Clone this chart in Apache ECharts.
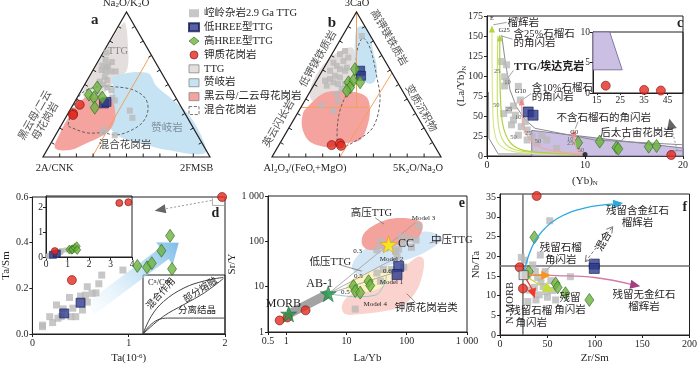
<!DOCTYPE html>
<html>
<head>
<meta charset="utf-8">
<script src="https://cdn.jsdelivr.net/npm/echarts@6/dist/echarts.min.js"></script>
<style>html,body{margin:0;padding:0;background:#fff}#chart{width:700px;height:365px}</style>
</head>
<body>
<div id="chart"></div>
<script>
const SERIF = "'Liberation Serif','Times New Roman','Noto Sans CJK SC',serif";
const INK = '#231f20';
const N_GRAY = '崆岭杂岩2.9 Ga TTG', N_BLUE = '低HREE型TTG', N_GREEN = '高HREE型TTG', N_RED = '钾质花岗岩';

// ---- a: Na2O/K2O - 2A/CNK - 2FMSB 三元图，点为 [顶端%, 右端%]
const aGray = [[72,2],[67,4],[63,4],[62,7],[60,5],[59,8],[59,11],[59,14],[55,9.5],[53,12],[52,8],[50,11],[48,14.5],[46,18],[41,21],[43,11.5],[37,11],[39,23.5],[32,36],[19,28],[17,27],[15,35.5],[63,7.5],[65.5,8.5],[27,40]];
const aBlue = [[37,18],[38,19]];
const aGreen = [[48,8.5],[43,6],[41,10],[41,15],[34,14]];
const aRed = [[36,4],[30,3],[29,3.5]];
// 区域边界 (三角图平面坐标, 底边 0-100)
const aFieldTTG = [[49.1,80.3],[50.9,65.9],[50.3,52.1],[44.3,46.1],[40.1,41.9],[32.3,34.1],[27,32.3],[24,38.3],[28.2,47.9],[34.1,58.1],[40.1,68.3],[46.1,77.9]];
const aFieldSanuk = [[41.9,47.9],[62.3,50.3],[68.3,41.9],[77.9,34.1],[86.3,26.4],[94,14.4],[97,2.4],[74.3,4.2],[58.1,8.4],[46.1,12],[40.1,18],[41.3,30],[41.9,41.9]];
const aFieldBio = [[7.2,5.4],[16.2,4.2],[26.4,8.4],[34.1,12],[40.1,16.2],[43.1,22.2],[43.1,28.2],[41.3,34.1],[34.1,35.3],[26.4,35.9],[23.4,34.1],[19.2,30],[14.4,22.2],[10.2,14.4]];
const aFieldMig = [[15,19.2],[22.2,37.1],[32.3,41.9],[43.1,41.9],[53.9,40.1],[61.1,35.3],[62.9,28.2],[59.9,21],[53.3,16.2],[44.3,13.2],[35.9,14.4],[26.4,14.4],[17.4,17.4]];
const aOrange = [[64.5,61.1],[29.4,0]];

// ---- b: 3CaO - Al2O3/(FeOt+MgO) - 5K2O/Na2O
const bGray = [[83.4,11.4],[73.1,6.7],[70.9,4.8],[68.6,10.9],[66.3,9.1],[65.1,3.8],[62.8,6.9],[59.5,4.6],[60.6,9.9],[59.5,13.5],[56,9.3],[53.8,7.4],[54.8,12.8],[51.5,10.6],[50.3,14],[50.3,18],[49.2,7.8],[46.9,17.8],[43.5,16.5],[44.6,21.9],[38.9,19.7],[32.1,20.2],[35.6,11.6],[61.7,13.4],[52.7,5]];
const bBlue = [[59.5,22.4],[56,24.7]];
const bGreen = [[60.6,18.8],[51.5,19.5],[52.7,21.8],[51.5,26.4],[48,22.2],[45.7,21.4]];
const bRed = [[8.2,31.2],[9.4,35.5],[7.7,37]];
const bFieldTTG = [[47.9,65.1],[49.1,53.3],[47.9,43.8],[40.2,37.9],[34.3,35.5],[28.4,33.7],[23.7,33.7],[22.5,39.6],[26.6,49.7],[32.5,57.4],[40.2,63.3]];
const bFieldSanuk = [[50.3,76.9],[53.8,78.1],[58,73.4],[59.8,63.3],[62.1,53.3],[60.9,45.6],[58,43.8],[53.8,45.6],[50.9,49.7],[49.1,57.4],[49.1,69.2]];
const bFieldBio = [[20.7,29.6],[30.2,37.9],[40.2,39.6],[50.3,38.5],[56.2,35.5],[58,27.8],[56.2,17.8],[52.1,10.1],[44.4,8.3],[34.3,5.9],[26.6,7.1],[21.3,10.1],[17.8,17.8],[18.3,26]];
const bFieldMig = [[53.8,71],[58,65.1],[62.1,47.3],[63.9,33.7],[59.8,17.8],[50.3,10.1],[40.2,5.9],[38.5,14.2],[40.2,27.8],[44.4,37.9],[49.1,45.6],[50.3,63.3]];
const bOrange = [[[50,86.6],[50,29.6]], [[17.1,29.6],[56.8,29.6]], [[71,50.2],[40.2,0]]];

// ---- c: (La/Yb)N vs (Yb)N
const cGray = [[1.5,118],[2,114],[1.8,99],[2,93],[1.8,87.5],[3.2,87],[3.4,70],[2.7,62.5],[1.7,53],[2.2,57.5],[2.9,51],[3.9,43],[2.5,39],[3.5,36.6],[3.2,26],[4.1,32.5],[4.6,24],[5.6,26],[6.1,20],[7.1,9.6],[5.1,16],[4.1,20],[4.6,53],[2.7,45]];
const cBlue = [[4.2,55],[4.7,51]];
const cGreen = [[9.3,16.6],[11.5,18],[13.2,10.5],[13.4,9],[16.5,11.7],[17.3,12.5]];
const cRed = [[18.8,1.2],[35.1,0.5],[42.2,0.4]];
const cCurveE = [[0.5,163],[0.55,80],[0.7,35],[1.2,15],[2.5,6],[5,3],[10,2]];
const cCurveG25a = [[1.3,152],[1.35,80],[1.6,40],[2.3,18],[3.5,8],[6,4],[10,2]];
const cCurveG25b = [[1.1,150],[1.05,80],[1.15,40],[1.7,18],[2.8,8],[5,4],[10,2]];
const cCurveG10 = [[3.5,72],[3.6,50],[4,28],[5,14],[6.5,7],[10,2]];
const cCurveG0 = [[8.8,33],[9,15],[9.3,6],[10,2]];
const cTTGLower = [[0.15,80],[0.2,22],[1.15,2.5],[4.56,2.5]];
const cTTGUpper = [[1.5,151],[1.84,120],[2.35,82.5],[3,61.6],[3.9,45],[4.9,34.6],[11,20],[20,14]];
const cPostArchean = [[4.56,32],[20,10],[20,0],[4.56,0]];
const cInsetField = [[13.4,10],[20.5,10],[25.8,3.8],[13.4,3.8]];
const cEnd = [10,2];

// ---- d: Ta/Sm vs Ta
const dGray = [[0.105,0.032],[0.105,0.039],[0.18,0.076],[0.21,0.05],[0.265,0.069],[0.25,0.127],[0.32,0.11],[0.3,0.076],[0.4,0.076],[0.42,0.113],[0.45,0.076],[0.385,0.16],[0.5,0.166],[0.52,0.105],[0.55,0.17],[0.57,0.207],[0.62,0.178],[0.66,0.18],[0.69,0.22],[0.72,0.258],[0.94,0.28],[0.57,0.14]];
const dBlue = [[0.33,0.09],[0.5,0.137]];
const dGreen = [[1.09,0.298],[1.19,0.292],[1.24,0.31],[1.34,0.365],[1.43,0.43],[1.45,0.285]];
const dRed = [[0.41,0.236],[3.41,2.17],[3.83,2.2]];
const dOffscale = [[1.97,0.6]];
const dTrend = [[0.6,0.11],[1.52,0.4]];
const dMix = [[0,0],[0.1,0.3],[0.25,0.55],[0.5,0.78],[0.75,0.9],[0.98,0.96]];
const dMelt = [[0,0],[0.25,0.3],[0.5,0.5],[0.75,0.7],[0.98,0.94]];
const dFrac = [[0,0],[0.08,0.14],[0.18,0.24],[0.3,0.27],[1,0.27]];

// ---- e: Sr/Y vs La/Yb (对数)
const eGray = [[36.6,98],[44,71],[57,83],[65,60],[73.6,67],[83.5,89],[108,117],[120,74],[143,107],[158,217],[69,46],[32,65],[41,23.8],[55.6,23.8],[89,27],[32,20],[36.6,13.2],[14,3.2],[81.5,123]];
const eBlue = [[73.6,28],[69,18.5]];
const eGreen = [[23.3,13.2],[24.8,10.6],[13.1,10.3],[14,8],[16.9,7.4]];
const eRed = [[0.78,1.8],[1.05,2.1],[2.1,3]];
const eMORB = [1.1,2.5], eAB1 = [5,7], eCC = [50,85];
const eFieldHP = [[20.5,163],[44,293],[108,319],[180,248],[158,127],[83.5,91],[44,71],[23.3,65],[18,91]];
const eFieldMP = [[12.3,28],[18,60],[34,91],[83.5,138],[233,163],[387,117],[264,71],[140,46],[65,33],[30,23.8],[15.8,18.5]];
const eFieldLP = [[10.8,12.2],[18,20],[34,28],[57,28],[65,18.5],[44,11.2],[26.4,8],[14,7.4],[10,8.7]];
const eFieldK = [[8.4,3.75],[10.8,6.2],[23.3,10.3],[50,17],[108,33],[158,46],[192,39],[180,17],[140,7.4],[83.5,3.75],[44,2.9],[18,2.5],[9.5,2.5]];
const eModel3 = [eAB1,[140,260]], eModel2 = [eAB1,[70,45]], eModel1 = [eAB1,[75,22]];
const eModel4 = [eAB1,[15,6],[30,6.5],[42,11],[46,17]];

// ---- f: Nb/Ta vs Zr/Sm
const fGray = [[22.5,19.7],[34.5,17.8],[37.3,16.2],[29.3,15.2],[39.7,14.6],[43.2,13.5],[45.6,12.3],[49,11],[50.1,9.6],[41.5,10.2],[38,8.9],[29.3,8.5],[31.1,11.4],[36.3,12.1],[55.3,11.3],[53.6,13.8],[74.3,14.8],[52.5,29],[42.5,20.3],[25.9,19],[58.7,8.9],[47.7,16.1]];
const fBlue = [[99.5,18],[99.5,16.9]];
const fGreen = [[36.3,24.8],[30.4,16.1],[58.7,13.1],[60.8,12.1],[69.1,10.6],[94.3,8.9]];
const fRed = [[38.7,35.3],[20.7,17.2],[24.2,11.8]];
const fNMORB = [24.9,15.2];
const fRefZrSm = 24.2, fRefNbTa = 17.5;

const tern = p => [p[1] + p[0] / 2, p[0] * 0.866];
const RICH = {s: {fontSize: 7, verticalAlign: 'bottom', fontFamily: SERIF}, u: {fontSize: 7, verticalAlign: 'top', fontFamily: SERIF}};
const STAR = 'path://M50,2L61.8,37.6L99,37.6L68.9,59.6L80.4,95.1L50,73.2L19.6,95.1L31.1,59.6L1,37.6L38.2,37.6Z';

const KIND = {
    gray: {name: N_GRAY, symbol: 'rect', size: 6, item: {color: '#b9b9b9'}},
    blue: {name: N_BLUE, symbol: 'rect', size: 9, item: {color: '#2d3a8c', borderColor: '#141c55', borderWidth: 0.8}},
    green: {name: N_GREEN, symbol: 'diamond', size: [9, 13], item: {color: '#6db33f', borderColor: '#2e6b1e', borderWidth: 0.8}},
    red: {name: N_RED, symbol: 'circle', size: 9, item: {color: '#e42a20', borderColor: '#7d1410', borderWidth: 0.8}}
};

function pts(gi, kind, data, size, clip) {
    const k = KIND[kind];
    return {type: 'scatter', name: k.name, xAxisIndex: gi, yAxisIndex: gi, data, symbol: k.symbol,
        symbolSize: size || k.size, itemStyle: k.item, z: 5, silent: true, clip: clip !== false};
}

function poly(gi, points, st, name) {
    return {type: 'custom', name, xAxisIndex: gi, yAxisIndex: gi, silent: true, z: st.z || 1, data: [points[0]],
        renderItem: (params, api) => ({type: 'polygon',
            shape: {points: points.map(p => api.coord(p)), smooth: st.smooth === undefined ? 0.35 : st.smooth},
            style: {fill: st.fill || 'none', stroke: st.stroke || 'none', lineWidth: st.lw || 1, lineDash: st.dash || null}})};
}

function line(gi, data, color, width, dash, smooth, z) {
    return {type: 'line', xAxisIndex: gi, yAxisIndex: gi, data, showSymbol: false, symbol: 'none', silent: true,
        smooth: smooth || false, z: z || 3, lineStyle: {color, width: width || 1, type: dash || 'solid'}};
}

function texts(gi, items) {
    return {type: 'custom', xAxisIndex: gi, yAxisIndex: gi, silent: true, z: 8,
        data: items.map(it => [it[0], it[1]]),
        renderItem(params, api) {
            const it = items[params.dataIndex], o = it[3] || {};
            const c = api.coord([it[0], it[1]]);
            return {type: 'text', x: c[0], y: c[1], rotation: (o.r || 0) * Math.PI / 180,
                style: {text: it[2], fill: o.color || INK, fontFamily: SERIF, fontSize: o.size || 10.5,
                    fontWeight: o.bold ? 'bold' : 'normal', align: o.align || 'center', verticalAlign: 'middle',
                    lineHeight: o.lh || 12, rich: RICH}};
        }};
}

function arrow(gi, points, o) {
    return {type: 'custom', xAxisIndex: gi, yAxisIndex: gi, silent: true, z: o.z || 6, data: [points[0]],
        renderItem(params, api) {
            const P = points.map(p => api.coord(p));
            const kids = [], L = o.hl || 8, W = o.hw || 7;
            const head = (tip, from) => {
                let dx = tip[0] - from[0], dy = tip[1] - from[1];
                const len = Math.hypot(dx, dy) || 1; dx /= len; dy /= len;
                const bx = tip[0] - dx * L, by = tip[1] - dy * L, nx = -dy * W / 2, ny = dx * W / 2;
                const tri = [[bx + nx, by + ny], tip, [bx - nx, by - ny]];
                if (o.open) {
                    kids.push({type: 'polyline', shape: {points: tri}, style: {stroke: o.headColor || o.color, lineWidth: o.w || 1, fill: 'none'}});
                    return tip;
                }
                kids.push({type: 'polygon', shape: {points: tri}, style: {fill: o.headColor || o.color}});
                return [tip[0] - dx * L * 0.6, tip[1] - dy * L * 0.6];
            };
            const ln = P.slice();
            if (o.end !== false) ln[ln.length - 1] = head(P[P.length - 1], P[P.length - 2]);
            if (o.start) ln[0] = head(P[0], P[1]);
            kids.unshift({type: 'polyline', shape: {points: ln, smooth: o.smooth || 0},
                style: {stroke: o.color, lineWidth: o.w || 1, lineDash: o.dash || null, fill: 'none'}});
            return {type: 'group', children: kids};
        }};
}

// 三角形边框及刻度
function ternFrame(gi) {
    return {type: 'custom', xAxisIndex: gi, yAxisIndex: gi, silent: true, z: 4, data: [[0, 0]],
        renderItem(params, api) {
            const V = [[0, 0], [100, 0], [50, 86.6]].map(p => api.coord(p));
            const cx = (V[0][0] + V[1][0] + V[2][0]) / 3, cy = (V[0][1] + V[1][1] + V[2][1]) / 3;
            const kids = [{type: 'polygon', shape: {points: V}, style: {fill: 'none', stroke: INK, lineWidth: 1.2}}];
            for (let e = 0; e < 3; e++) {
                const A = V[e], B = V[(e + 1) % 3];
                let ex = B[0] - A[0], ey = B[1] - A[1];
                const el = Math.hypot(ex, ey); ex /= el; ey /= el;
                for (let k = 1; k < 10; k++) {
                    const x = A[0] + (B[0] - A[0]) * k / 10, y = A[1] + (B[1] - A[1]) * k / 10;
                    let nx = -ey, ny = ex;
                    if (nx * (cx - x) + ny * (cy - y) < 0) { nx = -nx; ny = -ny; }
                    kids.push({type: 'line', shape: {x1: x, y1: y, x2: x + nx * 3.5, y2: y + ny * 3.5}, style: {stroke: INK, lineWidth: 1}});
                }
            }
            return {type: 'group', children: kids};
        }};
}

function trendArrow(gi, p) {
    return {type: 'custom', xAxisIndex: gi, yAxisIndex: gi, silent: true, z: 2, data: [p[0]],
        renderItem(params, api) {
            const a = api.coord(p[0]), b = api.coord(p[1]);
            let dx = b[0] - a[0], dy = b[1] - a[1];
            const len = Math.hypot(dx, dy); dx /= len; dy /= len;
            const nx = -dy, ny = dx, w = 7, h = 14, L = 18;
            const bx = b[0] - dx * L, by = b[1] - dy * L;
            const shape = [[a[0] + nx * w, a[1] + ny * w], [bx + nx * w, by + ny * w], [bx + nx * h, by + ny * h], b,
                [bx - nx * h, by - ny * h], [bx - nx * w, by - ny * w], [a[0] - nx * w, a[1] - ny * w]];
            return {type: 'polygon', shape: {points: shape}, style: {fill: new echarts.graphic.LinearGradient(a[0], a[1], b[0], b[1],
                [{offset: 0, color: 'rgba(220,238,250,0.15)'}, {offset: 1, color: '#7dbde9'}], true)}};
        }};
}

const LBL = {fontFamily: SERIF, fontSize: 10, color: INK, margin: 4, show: true};
function ax(gi, o) {
    return Object.assign({gridIndex: gi, type: 'value', nameLocation: 'middle',
        nameTextStyle: {fontFamily: SERIF, fontSize: 11, color: INK, rich: RICH},
        axisLine: {show: true, onZero: false, lineStyle: {color: INK, width: 1}},
        axisTick: {show: true, length: 3, lineStyle: {color: INK}},
        axisLabel: Object.assign({}, LBL),
        splitLine: {show: false}}, o);
}
const hidden = (gi, max) => ({gridIndex: gi, type: 'value', min: 0, max, show: false});
const logLabel = v => (v === 1000 ? '1 000' : String(v));
const box = {show: true, borderColor: INK, borderWidth: 1};

const FIELD = {
    TTG: {fill: '#e4dfdc'}, Sanuk: {fill: '#c6e3f4'}, Bio: {fill: '#f4a39f'},
    Mig: {stroke: '#555', dash: [3, 2], lw: 0.9, z: 2}
};

const series = [
    // a
    poly(0, aFieldTTG, FIELD.TTG, 'TTG'),
    poly(0, aFieldSanuk, FIELD.Sanuk, '赞岐岩'),
    poly(0, aFieldBio, FIELD.Bio, '黑云母/二云母花岗岩'),
    poly(0, aFieldMig, FIELD.Mig, '混合花岗岩'),
    line(0, aOrange, '#f5a05a', 1),
    ternFrame(0),
    pts(0, 'gray', aGray.map(tern)), pts(0, 'blue', aBlue.map(tern)),
    pts(0, 'green', aGreen.map(tern)), pts(0, 'red', aRed.map(tern)),
    texts(0, [
        [49.7, 92, 'Na{s|2}O/K{s|2}O', {size: 11}],
        [7, -7, '2A/CNK'], [92, -7, '2FMSB'],
        [31, 82, 'a', {size: 15, bold: true}],
        [44.9, 62.9, 'TTG', {color: '#8a8a8a'}],
        [74.3, 17.4, '赞岐岩', {color: '#7d8c99'}],
        [49.1, 7.2, '混合花岗岩', {color: '#444'}],
        [-1.5, 23, '黑云母/二云\n母花岗岩', {r: 60, color: '#555'}]
    ]),
    // b
    poly(1, bFieldTTG, FIELD.TTG), poly(1, bFieldSanuk, FIELD.Sanuk), poly(1, bFieldBio, FIELD.Bio), poly(1, bFieldMig, FIELD.Mig),
    ...bOrange.map(l => line(1, l, '#f5a05a', 1)),
    ternFrame(1),
    pts(1, 'gray', bGray.map(tern)), pts(1, 'blue', bBlue.map(tern)),
    pts(1, 'green', bGreen.map(tern)), pts(1, 'red', bRed.map(tern)),
    texts(1, [
        [50.3, 92, '3CaO'],
        [19.5, -7, 'Al{s|2}O{s|3}/(FeO{s|t}+MgO)'], [86.4, -7, '5K{s|2}O/Na{s|2}O'],
        [35.5, 80, 'b', {size: 15, bold: true}],
        [27.5, 58.5, '低钾镁铁质岩', {r: 60, color: '#555'}],
        [4.2, 19.9, '英云闪长岩', {r: 60, color: '#555'}],
        [69, 71.2, '高钾镁铁质岩', {r: -60, color: '#555'}],
        [88, 29, '变质沉积物', {r: -60, color: '#555'}]
    ]),
    // c
    poly(2, cPostArchean, {fill: '#cbbfe3', stroke: '#6f6190', lw: 0.8, smooth: 0}),
    line(2, cTTGLower, '#8c8c8c', 1),
    line(2, cTTGUpper, '#8c8c8c', 1),
    arrow(2, cCurveE, {color: '#d7e98e', w: 1.2, smooth: 0.3, end: false, start: true, hl: 7, hw: 6, headColor: '#b5d33d'}),
    arrow(2, cCurveG25b, {color: '#c7df6a', w: 1.1, smooth: 0.3, end: false}),
    arrow(2, cCurveG25a, {color: '#b2d03f', w: 1.2, smooth: 0.3, end: false, start: true, hl: 7, hw: 6}),
    arrow(2, cCurveG10, {color: '#f4a7a3', w: 1.1, smooth: 0.3, end: false, start: true, hl: 7, hw: 6, headColor: '#f08a86'}),
    arrow(2, cCurveG0, {color: '#f4a7a3', w: 1.1, smooth: 0.3, end: false, start: true, hl: 7, hw: 6, headColor: '#f08a86'}),
    arrow(2, [[19.4, 7], [18.6, 47]], {color: '#9a9a9a', w: 1, dash: [2, 2], hl: 11, hw: 10, headColor: '#666'}),
    poly(2, [[18.7, 0.2], [20, 0.2], [20, 6.6], [18.7, 6.6]], {stroke: '#888', lw: 0.8, smooth: 0, z: 4}),
    pts(2, 'gray', cGray, 7), pts(2, 'blue', cBlue, 10), pts(2, 'green', cGreen), pts(2, 'red', cRed),
    {type: 'scatter', xAxisIndex: 2, yAxisIndex: 2, data: [cEnd], symbolSize: 5, itemStyle: {color: '#111'}, z: 6, silent: true},
    line(2, [[0.65, 164], [2, 167]], '#888', 0.8),
    line(2, [[1.5, 150], [2.6, 146]], '#888', 0.8),
    line(2, [[2.7, 107], [2.1, 97]], '#888', 0.8),
    line(2, [[4.5, 78], [3.7, 71]], '#888', 0.8),
    line(2, [[9.3, 43], [9.0, 34]], '#888', 0.8),
    line(2, [[14.2, 25], [13.6, 18]], '#888', 0.8),
    texts(2, [
        [-2.6, 87.5, '(La/Yb){s|N}', {r: 90, size: 11}],
        [19.7, 166, 'c', {size: 14, bold: true}],
        [2.1, 166, '榴辉岩', {align: 'left'}],
        [2.7, 152.5, '含25%石榴石', {align: 'left'}],
        [2.7, 140.5, '的角闪岩', {align: 'left'}],
        [2.75, 111.5, 'TTG/埃达克岩', {align: 'left', bold: true, size: 11}],
        [4.56, 84.5, '含10%石榴石', {align: 'left'}],
        [4.56, 73, '的角闪岩', {align: 'left'}],
        [7.1, 47, '不含石榴石的角闪岩', {align: 'left'}],
        [15.3, 29, '后太古宙花岗岩'],
        [0.5, 172, 'E', {size: 6.5}], [1.75, 157, 'G25', {size: 6.5}],
        [3.4, 81, 'G10', {size: 6.5}], [8.9, 29.5, 'G0', {size: 6.5}],
        [1.05, 106, '25', {size: 6.5, color: '#666'}], [0.95, 64, '50', {size: 6.5, color: '#666'}],
        [2.1, 92, '10', {size: 6.5, color: '#666'}], [2.25, 58, '25', {size: 6.5, color: '#666'}],
        [2.7, 24, '50', {size: 6.5, color: '#666'}], [3.2, 48, '10', {size: 6.5, color: '#666'}],
        [4.2, 29, '25', {size: 6.5, color: '#666'}], [5.2, 18, '50', {size: 6.5, color: '#666'}],
        [8.5, 21, '10', {size: 6.5, color: '#666'}], [8.5, 16, '25', {size: 6.5, color: '#666'}],
        [9.6, 7, '50', {size: 6.5, color: '#666'}]
    ]),
    // c 插图
    poly(3, cInsetField, {fill: '#cbbfe3', stroke: '#6f6190', lw: 0.8, smooth: 0}),
    pts(3, 'red', cRed),
    // d
    trendArrow(4, dTrend),
    pts(4, 'gray', dGray, 7), pts(4, 'blue', dBlue), pts(4, 'green', dGreen), pts(4, 'red', dRed),
    Object.assign(pts(4, 'red', dOffscale, 9, false), {z: 6}),
    poly(4, [[1.87, 0.563], [2, 0.563], [2, 0.6], [1.87, 0.6]], {stroke: '#999', lw: 0.8, smooth: 0, z: 4}),
    arrow(4, [[1.86, 0.585], [1.27, 0.54]], {color: '#9a9a9a', w: 1, dash: [2, 2], hl: 11, hw: 9, headColor: '#666'}),
    texts(4, [[1.9, 0.53, 'd', {size: 14, bold: true}]]),
    pts(5, 'gray', dGray, 5), pts(5, 'blue', dBlue, 7), pts(5, 'green', dGreen, [7, 9]), pts(5, 'red', dRed, 7),
    line(6, dMix, '#444', 1, 'solid', 0.4), line(6, dMelt, '#444', 1, 'solid', 0.4), line(6, dFrac, '#444', 1, 'solid', 0.3),
    texts(6, [
        [0.06, 0.86, 'C{u|a}/C{u|m}', {align: 'left', size: 8.5}],
        [0.22, 0.68, '混合作用', {r: 48, size: 9.5}],
        [0.7, 0.74, '部分熔融', {r: 33, size: 9.5}],
        [0.66, 0.39, '分离结晶', {size: 9.5}]
    ]),
    // e
    poly(7, eFieldK, {fill: '#fbd3ce'}),
    poly(7, eFieldLP, {fill: '#fcf1c2'}),
    poly(7, eFieldMP, {fill: '#d3e6f5'}),
    poly(7, eFieldHP, {fill: '#f3a39b'}),
    line(7, [eMORB, eAB1], '#a3a3a3', 9),
    line(7, eModel3, '#9a9a9a', 0.8), line(7, eModel2, '#9a9a9a', 0.8), line(7, eModel1, '#9a9a9a', 0.8),
    line(7, eModel4, '#8fc9c3', 1, 'solid', 0.4),
    line(7, [[30, 330], [42, 240]], '#666', 0.7), line(7, [[380, 105], [240, 92]], '#666', 0.7),
    line(7, [[8, 30], [18, 22]], '#666', 0.7), line(7, [[140, 4.5], [100, 7]], '#666', 0.7),
    pts(7, 'gray', eGray, 7), pts(7, 'blue', eBlue, 10), pts(7, 'green', eGreen), pts(7, 'red', eRed),
    {type: 'scatter', xAxisIndex: 7, yAxisIndex: 7, silent: true, z: 7, symbol: STAR, symbolSize: 16,
        itemStyle: {color: '#1f9a4b', borderColor: '#0e5c2a', borderWidth: 0.6}, data: [eMORB, eAB1]},
    {type: 'scatter', xAxisIndex: 7, yAxisIndex: 7, silent: true, z: 7, symbol: STAR, symbolSize: 17,
        itemStyle: {color: '#fff200', borderColor: '#e39b1a', borderWidth: 0.8}, data: [eCC]},
    texts(7, [
        [820, 680, 'e', {size: 14, bold: true}],
        [26, 420, '高压TTG'], [72, 90, 'CC', {align: 'left', size: 12}],
        [560, 107, '中压TTG'], [5.4, 34, '低压TTG'], [210, 3.4, '钾质花岗岩类'],
        [3.6, 11.5, 'AB-1', {size: 12}], [0.9, 4.1, 'MORB', {size: 12}],
        [190, 330, 'Model 3', {size: 7}], [56, 41, 'Model 2', {size: 7}],
        [56, 12.4, 'Model 1', {size: 7}], [30, 4.1, 'Model 4', {size: 7}],
        [15.3, 62, '0.3', {size: 7}], [15.8, 16.7, '0.5', {size: 7}],
        [48, 21.5, '0.6', {size: 7}], [9.6, 7.4, '0.5', {size: 7}]
    ]),
    // f
    line(8, [[fRefZrSm, 0], [fRefZrSm, 35.8]], '#6f6f6f', 1.5),
    line(8, [[0, fRefNbTa], [200, fRefNbTa]], '#6f6f6f', 1.5),
    arrow(8, [fNMORB, [30, 20], [40, 25], [60, 29.5], [90, 32.3], [130, 33.5]], {color: '#29abe2', w: 1.3, smooth: 0.4, hl: 10, hw: 9}),
    arrow(8, [fNMORB, [60, 15.1], [100, 14.6], [148, 12.4]], {color: '#d47aa6', w: 1.3, smooth: 0.4, hl: 10, hw: 9, headColor: '#a3407d'}),
    arrow(8, [fNMORB, [40, 15.2], [54, 15.1]], {color: '#f7931e', w: 1.3, hl: 10, hw: 9}),
    arrow(8, [fNMORB, [40, 13], [57, 11]], {color: '#c6de3c', w: 1.3, hl: 11, hw: 11}),
    arrow(8, [fNMORB, [33, 12], [37, 9.3]], {color: '#ee3a2a', w: 1.3, smooth: 0.3, hl: 10, hw: 9}),
    arrow(8, [[90, 18.6], [119, 27.5]], {color: '#777', w: 1, dash: [3, 2], hl: 6, hw: 7, open: true, start: true}),
    line(8, [[62, 19.5], [45, 15.5]], '#666', 0.7),
    pts(8, 'gray', fGray, 7), pts(8, 'blue', fBlue, 10), pts(8, 'green', fGreen), pts(8, 'red', fRed),
    {type: 'scatter', xAxisIndex: 8, yAxisIndex: 8, silent: true, z: 7, symbol: 'rect', symbolSize: 9,
        itemStyle: {color: '#d9d9d9', borderColor: '#555', borderWidth: 1}, data: [fNMORB]},
    texts(8, [
        [195, 32.5, 'f', {size: 14, bold: true}],
        [145, 30, '残留含金红石\n榴辉岩'], [64, 20.5, '残留石榴\n角闪岩'],
        [152, 8.6, '残留无金红石\n榴辉岩'], [74, 7.9, '残留\n角闪岩'],
        [33, 4.6, '残留石榴\n角闪岩'], [110, 23.7, '混合', {r: 60}],
        [10.4, 8.1, 'N-MORB', {r: 90}]
    ])
];

const option = {
    animation: false,
    backgroundColor: '#fff',
    legend: {
        orient: 'vertical', left: 188, top: 8, itemGap: 3.4, itemWidth: 10, itemHeight: 8, padding: 0,
        selectedMode: false,
        textStyle: {fontFamily: SERIF, fontSize: 10.5, color: INK},
        data: [
            {name: N_GRAY, icon: 'rect', itemStyle: {color: '#b9b9b9'}},
            {name: N_BLUE, icon: 'rect', itemStyle: {color: '#2d3a8c'}},
            {name: N_GREEN, icon: 'diamond', itemStyle: {color: '#6db33f', borderColor: '#2e6b1e', borderWidth: 0.8}},
            {name: N_RED, icon: 'circle', itemStyle: {color: '#e42a20', borderColor: '#7d1410', borderWidth: 0.8}},
            {name: 'TTG', icon: 'rect', itemStyle: {color: '#e4dfdc', borderColor: '#888', borderWidth: 0.8}},
            {name: '赞岐岩', icon: 'rect', itemStyle: {color: '#c6e3f4', borderColor: '#888', borderWidth: 0.8}},
            {name: '黑云母/二云母花岗岩', icon: 'rect', itemStyle: {color: '#f4a39f', borderColor: '#888', borderWidth: 0.8}},
            {name: '混合花岗岩', icon: 'rect', itemStyle: {color: '#fff', borderColor: '#555', borderWidth: 0.8, borderType: 'dashed'}}
        ]
    },
    grid: [
        {left: 43, top: 12, width: 167, height: 145},
        {left: 272, top: 12, width: 169, height: 145},
        Object.assign({left: 487, top: 16, width: 196, height: 140}, box),
        Object.assign({left: 593, top: 32, width: 90, height: 61}, box),
        Object.assign({left: 28, top: 197, width: 197, height: 137}, box),
        Object.assign({left: 46, top: 196, width: 86, height: 61}, box),
        Object.assign({left: 143, top: 275, width: 82, height: 59}, box),
        Object.assign({left: 268, top: 196, width: 199, height: 137}, box),
        Object.assign({left: 500, top: 194, width: 193, height: 141}, box)
    ],
    xAxis: [
        hidden(0, 100), hidden(1, 100),
        ax(2, {min: 0, max: 20, interval: 10, name: '(Yb){s|N}', nameGap: 20}),
        ax(3, {min: 13.4, max: 51.6, axisLabel: Object.assign({}, LBL, {fontSize: 9.5, margin: 3, customValues: [15, 25, 35, 45]}),
            axisTick: {show: true, length: 2, lineStyle: {color: INK}, customValues: [15, 25, 35, 45]}}),
        ax(4, {min: 0, max: 2, interval: 1, name: 'Ta(10{u|-6})', nameGap: 19}),
        ax(5, {min: 0, max: 4, interval: 1, axisLabel: Object.assign({}, LBL, {fontSize: 9.5, margin: 3})}),
        hidden(6, 1),
        ax(7, {type: 'log', min: 0.5, max: 1000, logBase: 10, name: 'La/Yb', nameGap: 21,
            axisLabel: Object.assign({}, LBL, {interval: 0, formatter: logLabel})}),
        ax(8, {min: 0, max: 200, interval: 50, name: 'Zr/Sm', nameGap: 18})
    ],
    yAxis: [
        hidden(0, 86.6), hidden(1, 86.6),
        ax(2, {min: 0, max: 175, interval: 25, axisLabel: Object.assign({}, LBL, {interval: 0})}),
        ax(3, {min: 0, max: 10, interval: 5, axisLabel: Object.assign({}, LBL, {fontSize: 9.5, margin: 3, interval: 0})}),
        ax(4, {min: 0, max: 0.6, interval: 0.2, name: 'Ta/Sm', nameGap: 15,
            axisLabel: Object.assign({}, LBL, {formatter: v => v.toFixed(1)})}),
        ax(5, {min: 0, max: 2.45, interval: 1, axisLabel: Object.assign({}, LBL, {fontSize: 9.5, margin: 3, showMaxLabel: false})}),
        hidden(6, 1),
        ax(7, {type: 'log', min: 1, max: 1000, logBase: 10, name: 'Sr/Y', nameGap: 22,
            axisLabel: Object.assign({}, LBL, {formatter: logLabel})}),
        ax(8, {min: 0, max: 35.8, interval: 5, name: 'Nb/Ta', nameGap: 16,
            axisLabel: Object.assign({}, LBL, {showMaxLabel: false})})
    ],
    series
};

const chart = echarts.init(document.getElementById('chart'), null, {renderer: 'canvas'});
chart.setOption(option);
</script>
</body>
</html>
